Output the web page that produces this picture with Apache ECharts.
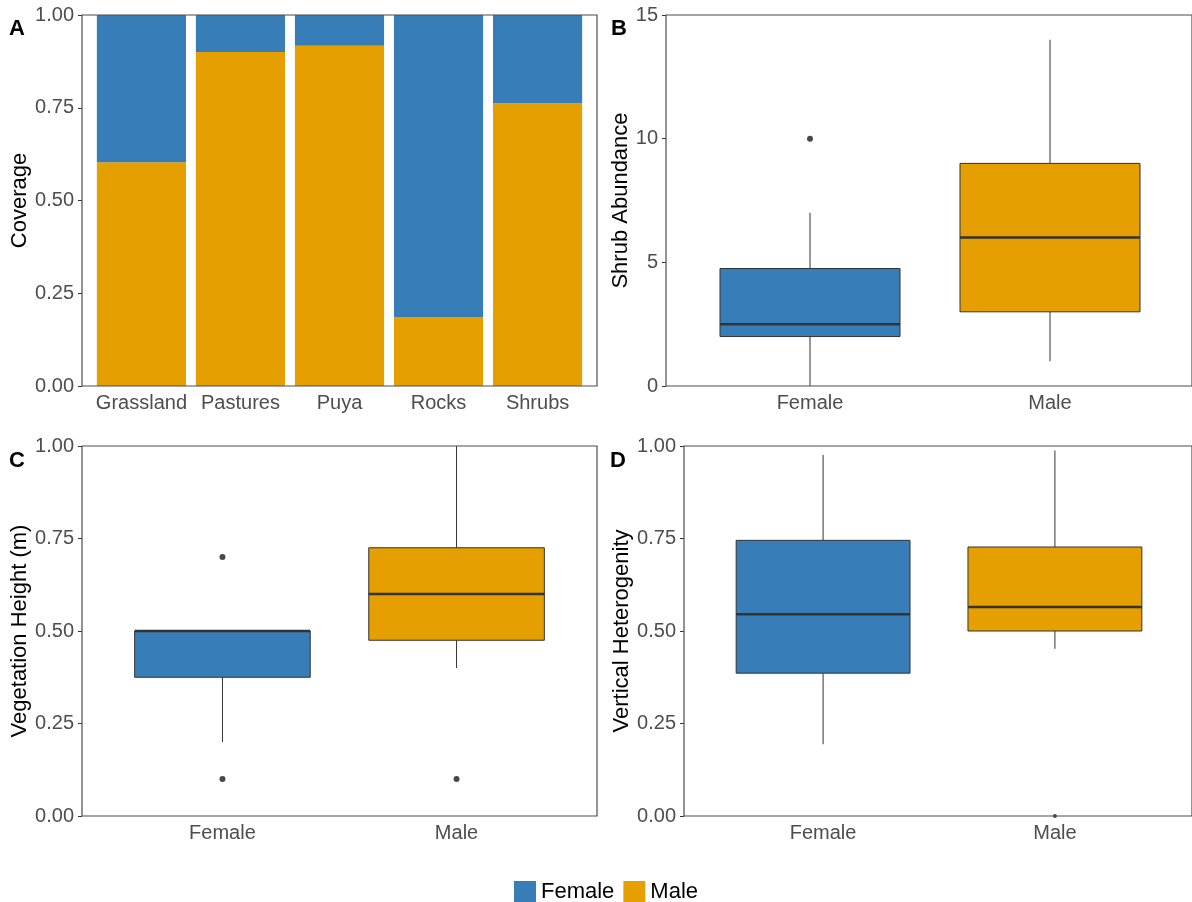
<!DOCTYPE html>
<html>
<head>
<meta charset="utf-8">
<script src="https://cdn.jsdelivr.net/npm/echarts@6/dist/echarts.min.js"></script>
<style>
    html, body { margin: 0; padding: 0; background: #fff; }
    #chart { width: 1192px; height: 902px; }
</style>
</head>
<body>
<div id="chart"></div>
<script>
// data
const habitats = ['Grassland', 'Pastures', 'Puya', 'Rocks', 'Shrubs'];
const maleCover = [0.603, 0.9, 0.917, 0.186, 0.762];
const femaleCover = [0.397, 0.1, 0.083, 0.814, 0.238];
const sexes = ['Female', 'Male'];
// boxes: [min, Q1, median, Q3, max]
const shrubBox = [[0, 2, 2.5, 4.75, 7], [1, 3, 6, 9, 14]];
const shrubOut = [['Female', 10]];
const heightBox = [[0.2, 0.375, 0.5, 0.5, 0.5], [0.4, 0.475, 0.6, 0.725, 1.0]];
const heightOut = [['Female', 0.7], ['Female', 0.1], ['Male', 0.1]];
const hetBox = [[0.194, 0.386, 0.545, 0.745, 0.976], [0.452, 0.5, 0.565, 0.727, 0.988]];
const hetOut = [['Male', 0.0]];
const fracTicks = [0, 1, 0.25];   // min, max, step
const shrubTicks = [0, 15, 5];

const BLUE = '#377EB8';
const ORANGE = '#E69F00';
const sexColors = [BLUE, ORANGE];
const FONT = "'Liberation Sans', Arial, sans-serif";

// panel frames (ggplot expands discrete axes by 0.6 units each side)
const panels = [
    { left: 82, top: 15, width: 515, height: 371, units: 5.2 },
    { left: 666, top: 15, width: 528, height: 371, units: 2.2 },
    { left: 82, top: 446, width: 515, height: 370, units: 2.2 },
    { left: 684, top: 446, width: 510, height: 370, units: 2.2 },
];

const grids = [];
panels.forEach(function (p) {
    const inset = p.width / p.units * 0.1;
    p.inset = inset;
    grids.push({ left: p.left + inset, top: p.top, width: p.width - 2 * inset, height: p.height });
});
panels.forEach(function (p) {
    grids.push({ left: p.left, top: p.top, width: p.width, height: p.height, show: true,
        borderColor: '#4d4d4d', borderWidth: 1.2, backgroundColor: 'transparent', z: 5 });
});

function catAxis(i, cats) {
    return {
        type: 'category', gridIndex: i, data: cats,
        axisLine: { show: false },
        axisTick: { alignWithLabel: true, length: 4, lineStyle: { color: '#333' } },
        axisLabel: { interval: 0, fontSize: 20, color: '#4d4d4d', margin: 7, fontFamily: FONT },
    };
}
function valAxis(i, ticks, name, gap, digits) {
    return {
        type: 'value', gridIndex: i, min: ticks[0], max: ticks[1], interval: ticks[2],
        offset: panels[i].inset,
        name: name, nameLocation: 'middle', nameGap: gap,
        nameTextStyle: { fontSize: 22, color: '#000', fontFamily: FONT },
        axisLine: { show: false },
        axisTick: { show: true, length: 4, lineStyle: { color: '#333' } },
        splitLine: { show: false },
        axisLabel: { fontSize: 20, color: '#4d4d4d', margin: 8, fontFamily: FONT,
            padding: [3, 0, 0, 0],
            formatter: function (v) { return v.toFixed(digits); } },
    };
}

const xAxes = [catAxis(0, habitats), catAxis(1, sexes), catAxis(2, sexes), catAxis(3, sexes)];
const yAxes = [
    valAxis(0, fracTicks, 'Coverage', 50, 2),
    valAxis(1, shrubTicks, 'Shrub Abundance', 33, 0),
    valAxis(2, fracTicks, 'Vegetation Height (m)', 49, 2),
    valAxis(3, fracTicks, 'Vertical Heterogenity', 51, 2),
];
for (let i = 4; i < 8; i++) {
    xAxes.push({ type: 'value', gridIndex: i, show: false });
    yAxes.push({ type: 'value', gridIndex: i, show: false });
}

// ggplot-style box: no whisker caps, thick median
function renderBox(params, api) {
    const x = api.value(0);
    const lo = api.coord([x, api.value(1)]);
    const q1 = api.coord([x, api.value(2)]);
    const md = api.coord([x, api.value(3)]);
    const q3 = api.coord([x, api.value(4)]);
    const hi = api.coord([x, api.value(5)]);
    const w = api.size([1, 0])[0] * 0.75;
    const cx = q1[0];
    const line = { stroke: '#333', lineWidth: 1 };
    return {
        type: 'group',
        children: [
            { type: 'line', shape: { x1: cx, y1: hi[1], x2: cx, y2: q3[1] }, style: line },
            { type: 'line', shape: { x1: cx, y1: q1[1], x2: cx, y2: lo[1] }, style: line },
            { type: 'rect', shape: { x: cx - w / 2, y: q3[1], width: w, height: q1[1] - q3[1] },
                style: { fill: api.visual('color'), stroke: '#333', lineWidth: 1 } },
            { type: 'line', shape: { x1: cx - w / 2, y1: md[1], x2: cx + w / 2, y2: md[1] },
                style: { stroke: '#333', lineWidth: 2.5 } },
        ],
    };
}

function boxSeries(i, boxes) {
    return {
        type: 'custom', name: 'box' + i, xAxisIndex: i, yAxisIndex: i,
        renderItem: renderBox,
        encode: { x: 0, y: [1, 2, 3, 4, 5] },
        data: boxes.map(function (b, k) {
            return { value: [k].concat(b), itemStyle: { color: sexColors[k] } };
        }),
    };
}
function outSeries(i, pts, size) {
    return {
        type: 'scatter', name: 'out' + i, xAxisIndex: i, yAxisIndex: i,
        symbolSize: size || 6, itemStyle: { color: '#1a1a1a' }, data: pts,
    };
}

const option = {
    animation: false,
    textStyle: { fontFamily: FONT },
    title: [
        { text: 'A', left: 9, top: 18 },
        { text: 'B', left: 611, top: 18 },
        { text: 'C', left: 9, top: 450 },
        { text: 'D', left: 610, top: 450 },
    ].map(function (t) {
        t.padding = 0;
        t.textStyle = { fontSize: 22, fontWeight: 'bold', color: '#000', fontFamily: FONT };
        return t;
    }),
    legend: {
        data: ['Female', 'Male'], left: 509, top: 876,
        icon: 'rect', itemWidth: 22, itemHeight: 22, itemGap: 9,
        textStyle: { fontSize: 22, color: '#000', fontFamily: FONT },
    },
    grid: grids,
    xAxis: xAxes,
    yAxis: yAxes,
    series: [
        { type: 'bar', name: 'Male', stack: 'cov', barWidth: '90%', xAxisIndex: 0, yAxisIndex: 0,
            itemStyle: { color: ORANGE }, data: maleCover },
        { type: 'bar', name: 'Female', stack: 'cov', barWidth: '90%', xAxisIndex: 0, yAxisIndex: 0,
            itemStyle: { color: BLUE }, data: femaleCover },
        boxSeries(1, shrubBox), outSeries(1, shrubOut),
        boxSeries(2, heightBox), outSeries(2, heightOut),
        boxSeries(3, hetBox), outSeries(3, hetOut, 4),
    ],
};

const myChart = echarts.init(document.getElementById('chart'));
myChart.setOption(option);
</script>
</body>
</html>
